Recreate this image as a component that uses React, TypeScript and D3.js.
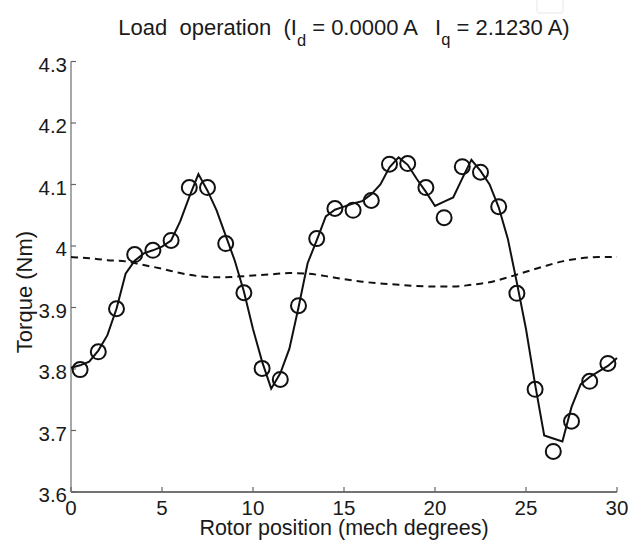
import React from "react";
import * as d3 from "d3";

const xTicks = [0, 5, 10, 15, 20, 25, 30];
const yTicks = [3.6, 3.7, 3.8, 3.9, 4.0, 4.1, 4.2, 4.3];
const yTickLabels = ["3.6", "3.7", "3.8", "3.9", "4", "4.1", "4.2", "4.3"];

// measured torque (circles) at 0.5, 1.5, ... 29.5
const measX = [0.5, 1.5, 2.5, 3.5, 4.5, 5.5, 6.5, 7.5, 8.5, 9.5, 10.5, 11.5, 12.5, 13.5, 14.5, 15.5, 16.5, 17.5, 18.5, 19.5, 20.5, 21.5, 22.5, 23.5, 24.5, 25.5, 26.5, 27.5, 28.5, 29.5];
const measY = [3.799, 3.828, 3.898, 3.986, 3.993, 4.009, 4.095, 4.095, 4.004, 3.924, 3.801, 3.783, 3.903, 4.012, 4.061, 4.058, 4.074, 4.133, 4.134, 4.095, 4.046, 4.129, 4.12, 4.064, 3.923, 3.767, 3.666, 3.715, 3.78, 3.809];

// simulated torque (solid line), step 0.5
const simX = [0, 0.5, 1, 1.5, 2, 2.5, 3, 3.5, 4, 4.5, 5, 5.5, 6, 6.5, 7, 7.5, 8, 8.5, 9, 9.5, 10, 10.5, 11, 11.5, 12, 12.5, 13, 13.5, 14, 14.5, 15, 15.5, 16, 16.5, 17, 17.5, 18, 18.5, 19, 19.5, 20, 20.5, 21, 21.5, 22, 22.5, 23, 23.5, 24, 24.5, 25, 25.5, 26, 26.5, 27, 27.5, 28, 28.5, 29, 29.5, 30];
const simY = [3.802, 3.806, 3.812, 3.83, 3.855, 3.898, 3.955, 3.976, 3.988, 3.993, 3.999, 4.009, 4.04, 4.08, 4.117, 4.09, 4.058, 4.017, 3.976, 3.926, 3.865, 3.812, 3.768, 3.793, 3.833, 3.9, 3.972, 4.009, 4.048, 4.059, 4.064, 4.069, 4.073, 4.084, 4.1, 4.128, 4.144, 4.132, 4.109, 4.088, 4.065, 4.072, 4.079, 4.11, 4.14, 4.122, 4.1, 4.063, 4.012, 3.94, 3.865, 3.775, 3.692, 3.687, 3.682, 3.738, 3.775, 3.787, 3.796, 3.805, 3.818];

// average torque (dashed line), step 1
const avgX = d3.range(0, 31);
const avgY = [3.982, 3.98, 3.977, 3.975, 3.969, 3.963, 3.956, 3.951, 3.949, 3.95, 3.952, 3.954, 3.956, 3.955, 3.951, 3.946, 3.942, 3.939, 3.937, 3.935, 3.934, 3.934, 3.937, 3.941, 3.949, 3.958, 3.967, 3.975, 3.98, 3.982, 3.982];

const FONT = "'Liberation Sans', Arial, Helvetica, sans-serif";

export default function App() {
  const x = d3.scaleLinear().domain([0, 30]).range([71, 617]);
  const y = d3.scaleLinear().domain([3.6, 4.3]).range([492, 61.5]);

  const simLine = d3
    .line<number>()
    .x((_, i) => x(simX[i]))
    .y((v) => y(v));
  const avgLine = d3
    .line<number>()
    .x((_, i) => x(avgX[i]))
    .y((v) => y(v))
    .curve(d3.curveMonotoneX);

  const textColor = "#1a1a1a";

  return (
    <svg
      width={629}
      height={541}
      style={{ position: "fixed", left: 0, top: 0, background: "#fff" }}
      fontFamily={FONT}
    >
      <rect x={537} y={-2} width={26} height={15} rx={2} fill="none" stroke="#e6e6e6" strokeWidth={1} />

      {/* axes */}
      <line x1={x(0)} x2={x(30)} y1={y(3.6)} y2={y(3.6)} stroke="#444" strokeWidth={1.3} />
      <line x1={x(0)} x2={x(0)} y1={y(3.6)} y2={y(4.3)} stroke="#8a8a8a" strokeWidth={1.5} />

      {xTicks.map((t) => (
        <g key={"xt" + t}>
          <line x1={x(t)} x2={x(t)} y1={y(3.6)} y2={y(3.6) - 5} stroke="#666" strokeWidth={1.2} />
          <text x={x(t)} y={y(3.6) + 23} textAnchor="middle" fontSize={20.5} fill={textColor}>
            {t}
          </text>
        </g>
      ))}
      {yTicks.map((t, i) => (
        <g key={"yt" + t}>
          <line x1={x(0)} x2={x(0) + 5} y1={y(t)} y2={y(t)} stroke="#666" strokeWidth={1.2} />
          <text x={x(0) - 4} y={y(t) + 10} textAnchor="end" fontSize={20.5} fill={textColor}>
            {yTickLabels[i]}
          </text>
        </g>
      ))}

      {/* data */}
      <path d={avgLine(avgY) || ""} fill="none" stroke="#111" strokeWidth={2} strokeDasharray="7,5" />
      <path d={simLine(simY) || ""} fill="none" stroke="#111" strokeWidth={2} strokeLinejoin="miter" />
      {measY.map((v, i) => (
        <circle key={"c" + i} cx={x(measX[i])} cy={y(v)} r={7.5} fill="none" stroke="#111" strokeWidth={2} />
      ))}

      {/* labels */}
      <text x={344} y={35} textAnchor="middle" fontSize={22} fill={textColor} xmlSpace="preserve">
        <tspan>{"Load  operation  (I"}</tspan>
        <tspan fontSize={16.5} dy={11}>d</tspan>
        <tspan dy={-11}>{" = 0.0000 A   I"}</tspan>
        <tspan fontSize={16.5} dy={10}>q</tspan>
        <tspan dy={-10}>{" = 2.1230 A)"}</tspan>
      </text>
      <text x={344} y={535} textAnchor="middle" fontSize={21.5} fill={textColor}>
        Rotor position (mech degrees)
      </text>
      <text
        transform={`translate(32, 292) rotate(-90)`}
        textAnchor="middle"
        fontSize={22}
        fill={textColor}
      >
        Torque (Nm)
      </text>
    </svg>
  );
}
